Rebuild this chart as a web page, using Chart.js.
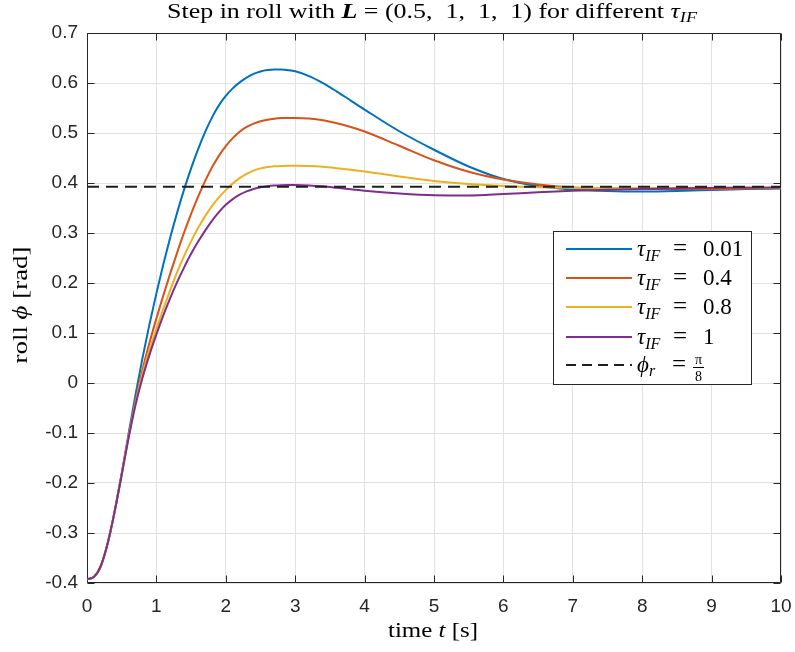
<!DOCTYPE html>
<html>
<head>
<meta charset="utf-8">
<script src="https://cdn.jsdelivr.net/npm/chart.js@4.4.1/dist/chart.umd.min.js"></script>
<style>
  html, body { margin: 0; padding: 0; background: #ffffff; }
  #wrap { width: 795px; height: 652px; position: relative; }
</style>
</head>
<body>
<div id="wrap"><canvas id="c" width="795" height="652"></canvas></div>
<script>
// Simulation time [s]
const time = [0, 0.1, 0.2, 0.3, 0.4, 0.5, 0.6, 0.7, 0.8, 0.9,
              1.0, 1.1, 1.2, 1.3, 1.4, 1.5, 1.6, 1.7, 1.8, 1.9,
              2.0, 2.1, 2.2, 2.3, 2.4, 2.5, 2.6, 2.7, 2.8, 2.9,
              3.0, 3.2, 3.4, 3.6, 3.8, 4.0,
              4.5, 5.0, 5.5, 6.0, 6.5, 7.0, 7.5, 8.0, 8.5, 9.0, 9.5, 10];

// Roll angle phi [rad] for each filter time constant tau_IF
const rollTau001 = [-0.3927, -0.3877, -0.3657, -0.3197, -0.2557, -0.1807, -0.1007, -0.0227, 0.0503, 0.1173,
                    0.1793, 0.2373, 0.2913, 0.3413, 0.3873, 0.4293, 0.4673, 0.5013, 0.5308, 0.5553,
                    0.5743, 0.5893, 0.6013, 0.6109, 0.6181, 0.623, 0.6258, 0.6269, 0.6268, 0.6256,
                    0.6234, 0.6139, 0.5998, 0.5829, 0.5649, 0.5469,
                    0.5035, 0.4665, 0.433, 0.408, 0.394, 0.387, 0.384, 0.383, 0.384, 0.386, 0.388, 0.389];
const rollTau04  = [-0.3927, -0.3877, -0.3657, -0.3197, -0.2557, -0.1817, -0.1057, -0.0357, 0.0263, 0.0803,
                    0.1293, 0.1753, 0.2193, 0.2613, 0.3013, 0.3383, 0.3723, 0.4033, 0.4308, 0.4543,
                    0.4738, 0.4898, 0.5025, 0.5121, 0.5188, 0.5235, 0.5267, 0.5287, 0.5298, 0.5302,
                    0.5302, 0.529, 0.5255, 0.5195, 0.512, 0.503,
                    0.4745, 0.4455, 0.4225, 0.407, 0.397, 0.391, 0.389, 0.388, 0.388, 0.388, 0.389, 0.39];
const rollTau08  = [-0.3927, -0.3877, -0.3657, -0.3197, -0.2557, -0.1827, -0.1077, -0.0397, 0.0183, 0.0663,
                    0.1083, 0.1483, 0.1863, 0.2223, 0.2543, 0.2833, 0.3098, 0.3333, 0.3538, 0.3713,
                    0.3858, 0.3988, 0.4098, 0.4183, 0.4248, 0.4292, 0.4318, 0.4333, 0.4342, 0.4346,
                    0.4347, 0.4342, 0.4325, 0.4297, 0.4265, 0.423,
                    0.413, 0.404, 0.398, 0.394, 0.3915, 0.3905, 0.39, 0.39, 0.39, 0.3905, 0.391, 0.391];
const rollTau1   = [-0.3927, -0.3877, -0.3657, -0.3197, -0.2557, -0.1837, -0.1097, -0.0437, 0.0103, 0.0563,
                    0.0973, 0.1353, 0.1703, 0.2023, 0.2313, 0.2583, 0.2823, 0.3043, 0.3243, 0.3418,
                    0.3563, 0.3678, 0.3766, 0.3832, 0.388, 0.3914, 0.3936, 0.3949, 0.3956, 0.3959,
                    0.3959, 0.3952, 0.3933, 0.3905, 0.3875, 0.3845,
                    0.379, 0.3755, 0.375, 0.378, 0.3815, 0.3845, 0.3865, 0.388, 0.389, 0.39, 0.3905, 0.391];

// Reference roll angle phi_r = pi/8
const refTime = [0, 10];
const refRoll = [Math.PI / 8, Math.PI / 8];

// Legend values of tau_IF
const tauLabels = ['0.01', '0.4', '0.8', '1'];

// Axis ticks
const xTickValues = [0, 1, 2, 3, 4, 5, 6, 7, 8, 9, 10];
const xTickLabels = ['0', '1', '2', '3', '4', '5', '6', '7', '8', '9', '10'];
const yTickValues = [-0.4, -0.3, -0.2, -0.1, 0, 0.1, 0.2, 0.3, 0.4, 0.5, 0.6, 0.7];
const yTickLabels = ['-0.4', '-0.3', '-0.2', '-0.1', '0', '0.1', '0.2', '0.3', '0.4', '0.5', '0.6', '0.7'];

const colors = ['#0072BD', '#D95319', '#EDB120', '#7E2F8E'];
const AXIS = '#262626';
const SERIF = '"Liberation Serif", "DejaVu Serif", serif';
const SANS = '"Liberation Sans", Arial, Helvetica, sans-serif';

function pts(xs, ys) { return xs.map((x, i) => ({ x: x, y: ys[i] })); }

function lineSet(label, xs, ys, color, order) {
  return {
    label: label, data: pts(xs, ys), borderColor: color, backgroundColor: color,
    borderWidth: 2, pointRadius: 0, fill: false, cubicInterpolationMode: 'monotone', order: order
  };
}

const datasets = [
  lineSet('tau 0.01', time, rollTau001, colors[0], 4),
  lineSet('tau 0.4', time, rollTau04, colors[1], 3),
  lineSet('tau 0.8', time, rollTau08, colors[2], 2),
  lineSet('tau 1', time, rollTau1, colors[3], 1),
  Object.assign(lineSet('phi_r', refTime, refRoll, '#1f1f1f', 0), { borderDash: [12, 7], cubicInterpolationMode: 'default', tension: 0 })
];

// Draw a run of text pieces with their own fonts, offsets and optional fixed x
function drawRich(ctx, segs, x, y, align, targetWidth) {
  ctx.save();
  let total = 0;
  segs.forEach(s => { ctx.font = s.font; s.w = ctx.measureText(s.text).width; total += s.w; });
  let sx = 1;
  if (targetWidth) sx = targetWidth / total;
  let start = x;
  if (align === 'center') start = x - total * sx / 2;
  else if (align === 'right') start = x - total * sx;
  ctx.translate(start, y);
  ctx.scale(sx, 1);
  ctx.textBaseline = 'alphabetic';
  ctx.textAlign = 'left';
  let cx = 0;
  segs.forEach(s => {
    if (s.x !== undefined) cx = s.x - start;
    ctx.font = s.font;
    ctx.fillStyle = s.color || '#000';
    ctx.fillText(s.text, cx, s.dy || 0);
    cx += s.w;
  });
  ctx.restore();
}

const decorPlugin = {
  id: 'decor',
  beforeDatasetsDraw(chart) {
    const { ctx, chartArea: a, scales } = chart;
    ctx.save();
    ctx.strokeStyle = AXIS;
    ctx.lineWidth = 1;
    const L = Math.round(a.left) + 0.5, R = Math.round(a.right) - 0.5;
    const T = Math.round(a.top) + 0.5, B = Math.round(a.bottom) - 0.5;
    ctx.beginPath();
    ctx.rect(L, T, R - L, B - T);
    // inward tick marks on all four sides
    const tl = 7;
    xTickValues.forEach(v => {
      const px = Math.round(scales.x.getPixelForValue(v)) + 0.5;
      ctx.moveTo(px, B); ctx.lineTo(px, B - tl);
      ctx.moveTo(px, T); ctx.lineTo(px, T + tl);
    });
    yTickValues.forEach(v => {
      const py = Math.round(scales.y.getPixelForValue(v)) + 0.5;
      ctx.moveTo(L, py); ctx.lineTo(L + tl, py);
      ctx.moveTo(R, py); ctx.lineTo(R - tl, py);
    });
    ctx.stroke();
    ctx.restore();
  },
  afterDraw(chart) {
    const { ctx } = chart;
    // title
    drawRich(ctx, [
      { text: 'Step in roll with ', font: '20px ' + SERIF },
      { text: 'L', font: 'italic bold 20px ' + SERIF },
      { text: ' = (0.5,  1,  1,  1) for different ', font: '20px ' + SERIF },
      { text: '\u03C4', font: 'italic 20px ' + SERIF },
      { text: 'IF', font: 'italic 14px ' + SERIF, dy: 4 }
    ], 167, 18, 'left', 530);

    // x-axis label
    drawRich(ctx, [
      { text: 'time ', font: '20px ' + SERIF },
      { text: 't', font: 'italic 20px ' + SERIF },
      { text: ' [s]', font: '20px ' + SERIF }
    ], 388, 637, 'left', 90);

    // y-axis label (rotated)
    ctx.save();
    ctx.translate(27, 305);
    ctx.rotate(-Math.PI / 2);
    drawRich(ctx, [
      { text: 'roll ', font: '20px ' + SERIF },
      { text: '\u03D5', font: 'italic 20px ' + SERIF },
      { text: ' [rad]', font: '20px ' + SERIF }
    ], 0, 0, 'center', 117);
    ctx.restore();

    // legend box
    const bx = 553.5, by = 231.5, bw = 198, bh = 153;
    ctx.save();
    ctx.fillStyle = '#ffffff';
    ctx.fillRect(bx, by, bw, bh);
    ctx.strokeStyle = AXIS;
    ctx.lineWidth = 1;
    ctx.strokeRect(bx, by, bw, bh);
    const rows = [249, 278, 307, 337, 365];
    const lx0 = 566, lx1 = 632, tx = 637;
    for (let i = 0; i < 5; i++) {
      ctx.beginPath();
      ctx.lineWidth = 2;
      if (i < 4) { ctx.strokeStyle = colors[i]; ctx.setLineDash([]); }
      else { ctx.strokeStyle = '#1f1f1f'; ctx.setLineDash([10, 6]); }
      ctx.moveTo(lx0, rows[i]); ctx.lineTo(lx1, rows[i]);
      ctx.stroke();
    }
    ctx.setLineDash([]);
    for (let i = 0; i < 4; i++) {
      drawRich(ctx, [
        { text: '\u03C4', font: 'italic 23px ' + SERIF },
        { text: 'IF', font: 'italic 16px ' + SERIF, dy: 5 },
        { text: '=', font: '25px ' + SERIF, x: 673 },
        { text: tauLabels[i], font: '23px ' + SERIF, x: 703 }
      ], tx, rows[i] + 7, 'left');
    }
    drawRich(ctx, [
      { text: '\u03D5', font: 'italic 23px ' + SERIF },
      { text: 'r', font: 'italic 16px ' + SERIF, dy: 4 },
      { text: '=', font: '25px ' + SERIF, x: 672 }
    ], tx, rows[4] + 7, 'left');
    // pi / 8 fraction
    ctx.fillStyle = '#000';
    ctx.font = '14px ' + SERIF;
    ctx.textAlign = 'center';
    ctx.textBaseline = 'alphabetic';
    ctx.fillText('\u03C0', 698.5, 364);
    ctx.fillText('8', 698.5, 381);
    ctx.fillRect(693, 367, 11, 1);
    ctx.restore();
  }
};

new Chart(document.getElementById('c'), {
  type: 'line',
  data: { datasets: datasets },
  options: {
    responsive: false,
    animation: false,
    devicePixelRatio: 1,
    layout: { padding: { top: 33, right: 14, left: 0, bottom: 0 } },
    plugins: { legend: { display: false }, title: { display: false }, tooltip: { enabled: false } },
    scales: {
      x: {
        type: 'linear', min: 0, max: 10,
        afterBuildTicks: s => { s.ticks = xTickValues.map(v => ({ value: v })); },
        afterFit: s => { s.height = 69; s.paddingLeft = 0; s.paddingRight = 0; },
        grid: { color: '#e2e2e2', lineWidth: 1, drawTicks: false },
        border: { display: false },
        ticks: {
          padding: 12, color: AXIS, font: { family: SANS, size: 19 }, maxRotation: 0,
          callback: (v, i) => xTickLabels[i]
        }
      },
      y: {
        type: 'linear', min: -0.4, max: 0.7,
        afterBuildTicks: s => { s.ticks = yTickValues.map(v => ({ value: v })); },
        afterFit: s => { s.width = 87; s.paddingTop = 0; s.paddingBottom = 0; },
        grid: { color: '#e2e2e2', lineWidth: 1, drawTicks: false },
        border: { display: false },
        ticks: {
          padding: 9, color: AXIS, font: { family: SANS, size: 19 },
          callback: (v, i) => yTickLabels[i]
        }
      }
    }
  },
  plugins: [decorPlugin]
});
</script>
</body>
</html>
